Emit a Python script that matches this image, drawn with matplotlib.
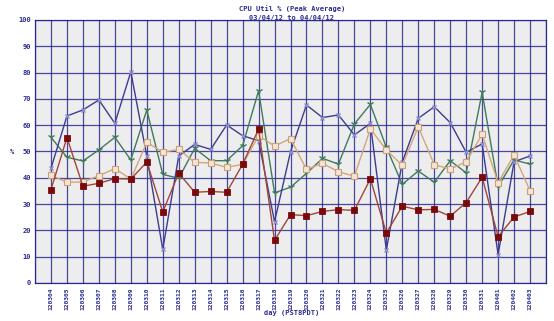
import matplotlib
matplotlib.use("Agg")
import matplotlib.pyplot as plt
import numpy as np

days = ['120304', '120305', '120306', '120307', '120308', '120309', '120310',
        '120311', '120312', '120313', '120314', '120315', '120316', '120317',
        '120318', '120319', '120320', '120321', '120322', '120323', '120324',
        '120325', '120326', '120327', '120328', '120329', '120330', '120331',
        '120401', '120402', '120403']

blue = [43.6, 63.5, 65.8, 69.6, 60.7, 80.3, 48.3, 12.8, 48.3, 52.7, 50.8,
        60.1, 56.0, 54.1, 23.3, 49.9, 67.7, 62.9, 63.9, 56.3, 60.7, 12.5,
        46.0, 62.6, 67.0, 61.0, 49.7, 52.9, 10.8, 46.1, 48.3]
green = [55.4, 47.8, 46.4, 50.6, 55.4, 46.8, 65.8, 41.3, 39.8, 51.2, 46.5,
         46.5, 52.2, 73.1, 34.3, 36.4, 41.7, 47.4, 45.2, 60.5, 67.9, 51.6,
         37.5, 42.6, 38.3, 46.5, 41.9, 72.5, 36.6, 46.8, 45.2]
tan = [41.0, 38.3, 38.4, 40.8, 43.5, 39.5, 53.5, 49.7, 50.8, 45.9, 45.6,
       44.0, 45.1, 56.0, 52.1, 54.9, 43.2, 45.5, 42.3, 40.6, 58.6, 50.6,
       44.7, 59.4, 45.0, 43.3, 46.1, 56.5, 38.1, 48.7, 35.1]
red = [35.5, 55.3, 36.8, 37.9, 39.7, 39.5, 46.0, 27.0, 41.8, 34.5, 34.8,
       34.5, 45.1, 58.5, 16.2, 26.0, 25.6, 27.2, 27.9, 27.6, 39.6, 19.0,
       29.2, 27.8, 28.0, 25.4, 30.6, 40.2, 17.6, 25.1, 27.2]

navy = '#2b2b8f'
fnt = dict(family='DejaVu Sans Mono', weight='bold', color=navy)

fig = plt.figure(figsize=(5.54, 3.21), dpi=100)
ax = fig.add_axes([0.0632, 0.1184, 0.9224, 0.8193])
ax.set_facecolor('#ededed')

x = np.arange(len(days))
ax.plot(x, green, color='#3f7a5c', lw=1.0, marker='1', ms=5, mew=1.0, zorder=3)
ax.plot(x, blue, color='#3c3c90', lw=1.0, marker='x', ms=3.5, mew=1.0,
        mec='#8a8ad0', zorder=4)
ax.plot(x, tan, color='#d2a67a', lw=1.0, marker='s', ms=4, mew=0.8,
        mfc='#f3e4d4', mec='#c9a07a', zorder=5)
ax.plot(x, red, color='#a0463a', lw=1.0, marker='s', ms=4, mew=0.6,
        mfc='#7a0a0a', mec='#7a0a0a', zorder=6)

ax.set_xlim(-1, len(days))
ax.set_ylim(0, 100)
ax.set_xticks(x)
ax.set_xticklabels(days, rotation=90, fontsize=4.5, **fnt)
ax.set_yticks(np.arange(0, 101, 10))
ax.set_yticklabels([str(v) for v in range(0, 101, 10)], fontsize=5, **fnt)
ax.set_xticks(np.arange(-1, len(days) + 1), minor=True)
ax.tick_params(length=0, pad=3)
ax.grid(True, which='major', color=navy, lw=0.9, alpha=0.85)
ax.grid(True, which='minor', axis='x', color=navy, lw=0.9, alpha=0.85)
ax.tick_params(which='minor', length=0)
for s in ax.spines.values():
    s.set_color(navy)
    s.set_linewidth(0.9)
ax.set_axisbelow(True)

fig.text(0.527, 0.972, 'CPU Util % (Peak Average)', ha='center', va='center',
         fontsize=5, **fnt)
fig.text(0.527, 0.945, '03/04/12 to 04/04/12', ha='center', va='center',
         fontsize=5, **fnt)
fig.text(0.022, 0.527, '%', ha='center', va='center', fontsize=5, **fnt)
fig.text(0.527, 0.025, 'day (PST8PDT)', ha='center', va='center',
         fontsize=5, **fnt)

fig.savefig('out.png', dpi=100)
